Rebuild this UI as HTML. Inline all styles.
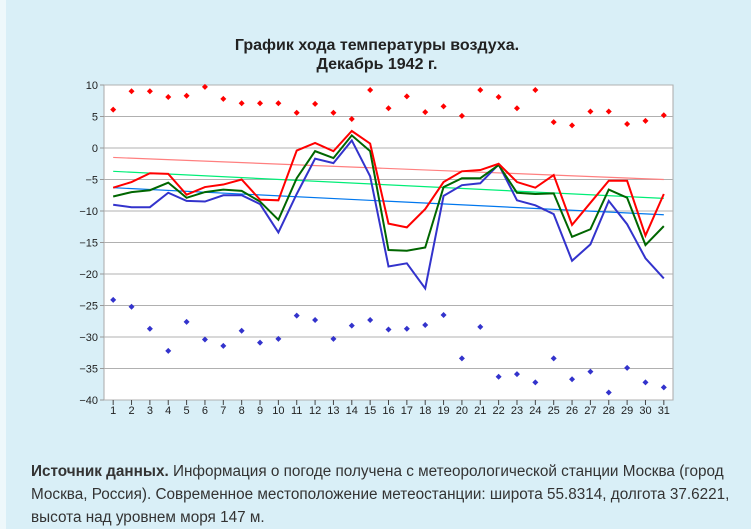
<!DOCTYPE html>
<html><head><meta charset="utf-8">
<style>
html,body{margin:0;padding:0;}
body{width:751px;height:529px;background:#d9eff7;font-family:"Liberation Sans",Arial,sans-serif;position:relative;overflow:hidden;}
#strip{position:absolute;left:0;top:0;width:6px;height:529px;background:#eef8fb;}
#chart{position:absolute;left:0;top:0;}
#src{position:absolute;left:31px;top:460px;width:708px;font-size:15.3px;line-height:23px;color:#333;}
</style></head><body>
<div id="strip"></div>
<svg id="chart" width="751" height="440"></svg>
<div id="src"><b>Источник данных.</b> Информация о погоде получена с метеорологической станции Москва (город Москва, Россия). Современное местоположение метеостанции: широта 55.8314, долгота 37.6221, высота над уровнем моря 147 м.</div>
<script>
const days = [1,2,3,4,5,6,7,8,9,10,11,12,13,14,15,16,17,18,19,20,21,22,23,24,25,26,27,28,29,30,31];
const yTicks = [10,5,0,-5,-10,-15,-20,-25,-30,-35,-40];
const tMax = [-6.3,-5.4,-4.0,-4.1,-7.4,-6.2,-5.8,-5.0,-8.2,-8.3,-0.4,0.8,-0.5,2.7,0.7,-12.0,-12.6,-9.7,-5.4,-3.7,-3.5,-2.5,-5.4,-6.3,-4.3,-12.2,-8.7,-5.2,-5.2,-13.9,-7.3];
const tMean = [-7.7,-7.0,-6.7,-5.5,-7.9,-7.0,-6.6,-6.8,-8.5,-11.4,-4.8,-0.5,-1.6,2.0,-0.5,-16.2,-16.3,-15.8,-6.2,-4.8,-4.8,-2.7,-7.1,-7.3,-7.2,-14.1,-12.9,-6.6,-7.9,-15.4,-12.4];
const tMin = [-9.0,-9.4,-9.4,-7.1,-8.4,-8.5,-7.5,-7.5,-8.9,-13.4,-7.3,-1.7,-2.4,1.2,-4.5,-18.8,-18.3,-22.3,-7.6,-5.9,-5.6,-2.6,-8.3,-9.1,-10.5,-17.9,-15.3,-8.4,-12.1,-17.5,-20.7];
const recMax = [6.1,9.0,9.0,8.1,8.3,9.7,7.8,7.1,7.1,7.1,5.6,7.0,5.6,4.6,9.2,6.3,8.2,5.7,6.6,5.1,9.2,8.1,6.3,9.2,4.1,3.6,5.8,5.8,3.8,4.3,5.2];
const recMin = [-24.1,-25.2,-28.7,-32.2,-27.6,-30.4,-31.4,-29.0,-30.9,-30.3,-26.6,-27.3,-30.3,-28.2,-27.3,-28.8,-28.7,-28.1,-26.5,-33.4,-28.4,-36.3,-35.9,-37.2,-33.4,-36.7,-35.5,-38.8,-34.9,-37.2,-38.0];
const normMax = [-1.5,-5.0];
const normMean = [-3.7,-8.0];
const normMin = [-6.3,-10.6];

const NS='http://www.w3.org/2000/svg';
const svg=document.getElementById('chart');
const L=104,R=673,T=85,B=400,yMaxV=10,yMinV=-40;
const step=(R-L)/days.length;
function x(d){return L+step*(d-0.5);}
function y(v){return T+(yMaxV-v)/(yMaxV-yMinV)*(B-T);}
function el(tag,attrs,parent){const e=document.createElementNS(NS,tag);for(const k in attrs)e.setAttribute(k,attrs[k]);(parent||svg).appendChild(e);return e;}

const t1=el('text',{x:377,y:50,'text-anchor':'middle','font-size':'16','font-weight':'bold',fill:'#222','font-family':'Liberation Sans, sans-serif'});
t1.textContent='График хода температуры воздуха.';


const t2=el('text',{x:377,y:69,'text-anchor':'middle','font-size':'16','font-weight':'bold',fill:'#222','font-family':'Liberation Sans, sans-serif'});
t2.textContent='Декабрь 1942 г.';



const plot=el('rect',{x:L,y:T,width:R-L,height:B-T,fill:'#fff',stroke:'#aaa','stroke-width':1});



yTicks.forEach(v=>{
  const g=el('line',{x1:L,x2:R,y1:y(v),y2:y(v),stroke:'#b0b0b0','stroke-width':1});
  
  
  const tk=el('line',{x1:L-4,x2:L,y1:y(v),y2:y(v),stroke:'#999'});
  
  
  const lb=el('text',{x:L-6,y:y(v)+4,'text-anchor':'end','font-size':'11',fill:'#222','font-family':'Liberation Sans, sans-serif'});
  lb.textContent=String(v).replace('-','−');
  
  
});
days.forEach(d=>{
  const tk=el('line',{x1:x(d),x2:x(d),y1:B,y2:B+5,stroke:'#444'});
  
  
  const lb=el('text',{x:x(d),y:B+14,'text-anchor':'middle','font-size':'11',fill:'#222','font-family':'Liberation Sans, sans-serif'});
  lb.textContent=d;
  
  
});

function trend(vals,color,name){
  const l=el('line',{x1:x(days[0]),y1:y(vals[0]),x2:x(days[days.length-1]),y2:y(vals[1]),stroke:color,'stroke-width':1.2});
  
  
}
trend(normMax,'#ff7f7f','norm-max-line');
trend(normMean,'#00ee77','norm-mean-line');
trend(normMin,'#0077ee','norm-min-line');

function series(vals,color,name){
  const p=el('polyline',{points:vals.map((v,i)=>x(days[i])+','+y(v)).join(' '),fill:'none',stroke:color,'stroke-width':2});
  
  
}
series(tMin,'#3333cc','min-temp-line');
series(tMean,'#006600','mean-temp-line');
series(tMax,'#ff0000','max-temp-line');

function dots(vals,color,name){
  vals.forEach((v,i)=>{
    const cx=x(days[i]),cy=y(v);
    const p=el('path',{d:`M${cx-3},${cy}L${cx},${cy-3}L${cx+3},${cy}L${cx},${cy+3}Z`,fill:color});
    
    
  });
}
dots(recMax,'#ff0000','record-max-point');
dots(recMin,'#3333cc','record-min-point');
</script>
</body></html>
